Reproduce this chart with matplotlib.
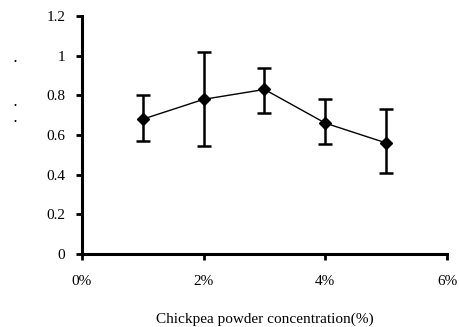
import matplotlib
matplotlib.use("Agg")
import matplotlib.pyplot as plt
import numpy as np

# data
conc = [1, 2, 3, 4, 5]
means = [0.68, 0.78, 0.83, 0.66, 0.56]
upper = [0.80, 1.02, 0.94, 0.78, 0.73]
lower = [0.57, 0.545, 0.71, 0.555, 0.41]
x_ticks = [0, 2, 4, 6]
x_labels = ["0%", "2%", "4%", "6%"]
y_ticks = [0, 0.2, 0.4, 0.6, 0.8, 1.0, 1.2]
y_labels = ["0", "0.2", "0.4", "0.6", "0.8", "1", "1.2"]

plt.rcParams["font.family"] = ["Liberation Serif", "DejaVu Serif"]

fig = plt.figure(figsize=(4.6, 3.27), dpi=100)
ax = fig.add_axes([0.178, 0.223, 0.794, 0.728])

yerr = [np.array(means) - np.array(lower), np.array(upper) - np.array(means)]
ax.errorbar(conc, means, yerr=yerr, color="black", lw=1.0, marker="D",
            markersize=6, capsize=5, elinewidth=1.8, capthick=1.8)

ax.set_xlim(0, 6)
ax.set_ylim(0, 1.2)
ax.set_xticks(x_ticks)
ax.set_xticklabels(x_labels)
ax.set_yticks(y_ticks)
ax.set_yticklabels(y_labels)
ax.tick_params(direction="out", length=4, width=2, labelsize=11, pad=8)
ax.tick_params(axis="x", pad=11)

for side in ["top", "right"]:
    ax.spines[side].set_visible(False)
for side in ["left", "bottom"]:
    ax.spines[side].set_linewidth(2.2)

ax.set_xlabel("Chickpea powder concentration(%)", fontsize=11, labelpad=18)

# leftover specks of the y label in the original
for yy in [65, 109, 125]:
    fig.text(15 / 460, 1 - yy / 327, ".", fontsize=9, ha="center", va="bottom",
             fontweight="bold")

fig.savefig("out.png", dpi=100)
